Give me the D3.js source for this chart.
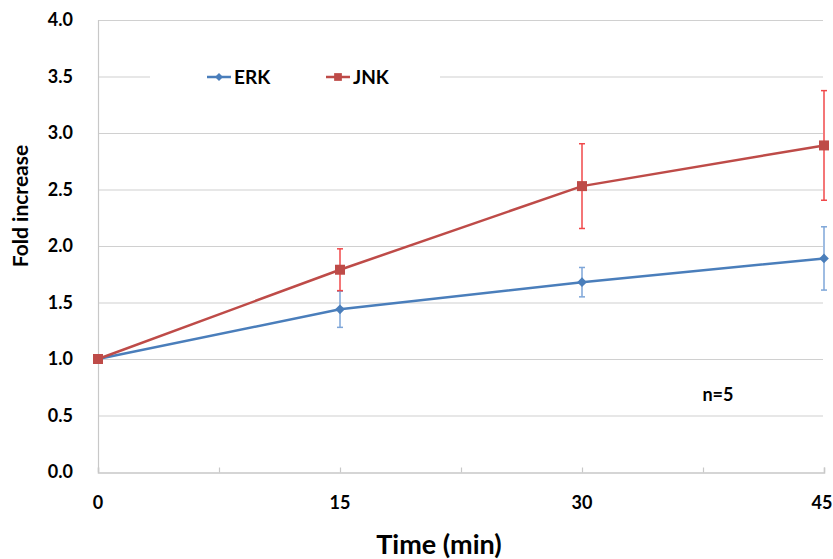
<!DOCTYPE html>
<html>
<head>
<meta charset="utf-8">
<script src="https://cdn.jsdelivr.net/npm/d3@7"></script>
<style>
  body { margin: 0; background: #fff; }
  text { font-family: Lato, "Open Sans", sans-serif; font-weight: bold; fill: #000; }
</style>
</head>
<body>
<div id="chart"></div>
<script>
var times = [0, 15, 30, 45];
var erk = [1.0, 1.44, 1.68, 1.89];
var erkErr = [0, 0.16, 0.13, 0.28];
var jnk = [1.0, 1.79, 2.53, 2.89];
var jnkErr = [0, 0.185, 0.375, 0.485];
var xTickLabels = [0, 15, 30, 45];
var yTicks = [0, 0.5, 1, 1.5, 2, 2.5, 3, 3.5, 4];

var w = 833, h = 559;
var plotLeft = 98, plotRight = 824, plotTop = 20, plotBottom = 472;

var svg = d3.select("#chart").append("svg")
  .attr("width", w)
  .attr("height", h);

var xScale = d3.scaleLinear().domain([0, 45]).range([plotLeft, plotRight]);
var yScale = d3.scaleLinear().domain([0, 4]).range([plotBottom, plotTop]);

// gridlines
svg.append("g").selectAll("line")
  .data(yTicks.filter(function(d) { return d > 0; }))
  .enter().append("line")
  .attr("x1", plotLeft).attr("x2", plotRight - 1)
  .attr("y1", function(d) { return yScale(d) + 0.5; })
  .attr("y2", function(d) { return yScale(d) + 0.5; })
  .attr("stroke", "#d0d0d0")
  .attr("stroke-width", 1.2);

// y axis line + labels
svg.append("line")
  .attr("x1", plotLeft + 0.5).attr("x2", plotLeft + 0.5)
  .attr("y1", plotTop).attr("y2", plotBottom)
  .attr("stroke", "#c8c8c8").attr("stroke-width", 1.2);

svg.append("g").selectAll("text")
  .data(yTicks)
  .enter().append("text")
  .attr("x", 73)
  .attr("y", function(d) { return yScale(d) + 6; })
  .attr("text-anchor", "end")
  .style("font-size", "18px")
  .text(function(d) { return d.toFixed(1); });

// x axis
var xAxis = d3.axisBottom(xScale)
  .tickValues([0, 7.5, 15, 22.5, 30, 37.5, 45])
  .tickSize(-5)
  .tickFormat("");
var gx = svg.append("g")
  .attr("transform", "translate(0," + (plotBottom + 0.5) + ")")
  .call(xAxis);
gx.select(".domain").attr("stroke", "#c8c8c8").attr("stroke-width", 1.5);
gx.selectAll(".tick line").attr("stroke", "#c8c8c8").attr("stroke-width", 1.2);

svg.append("g").selectAll("text")
  .data(xTickLabels)
  .enter().append("text")
  .attr("x", function(d) { return xScale(d) - (d === 45 ? 2 : 0); })
  .attr("y", 509)
  .attr("text-anchor", "middle")
  .style("font-size", "18px")
  .text(function(d) { return d; });

// axis titles
svg.append("text")
  .attr("transform", "translate(28,206) rotate(-90)")
  .attr("text-anchor", "middle")
  .style("font-size", "21px")
  .text("Fold increase");

svg.append("text")
  .attr("x", 439).attr("y", 554)
  .attr("text-anchor", "middle")
  .style("font-size", "27px")
  .text("Time (min)");

svg.append("text")
  .attr("x", 718).attr("y", 401)
  .attr("text-anchor", "middle")
  .style("font-size", "18px")
  .text("n=5");

function drawSeries(vals, errs, lineColor, errColor, marker) {
  var pts = times.map(function(t, i) { return { t: t, v: vals[i], e: errs[i] }; });
  var line = d3.line()
    .x(function(d) { return xScale(d.t); })
    .y(function(d) { return yScale(d.v); });

  var eb = svg.append("g").selectAll("g")
    .data(pts.filter(function(d) { return d.e > 0; }))
    .enter().append("g")
    .attr("stroke", errColor).attr("stroke-width", 1.5);
  eb.append("line")
    .attr("x1", function(d) { return xScale(d.t); })
    .attr("x2", function(d) { return xScale(d.t); })
    .attr("y1", function(d) { return yScale(d.v - d.e); })
    .attr("y2", function(d) { return yScale(d.v + d.e); });
  [-1, 1].forEach(function(s) {
    eb.append("line")
      .attr("x1", function(d) { return xScale(d.t) - 3; })
      .attr("x2", function(d) { return xScale(d.t) + 3; })
      .attr("y1", function(d) { return yScale(d.v + s * d.e); })
      .attr("y2", function(d) { return yScale(d.v + s * d.e); });
  });

  svg.append("path")
    .datum(pts)
    .attr("d", line)
    .attr("fill", "none")
    .attr("stroke", lineColor)
    .attr("stroke-width", 2.5);

  svg.append("g").selectAll("path")
    .data(pts)
    .enter().append("path")
    .attr("d", d3.symbol().type(marker).size(marker === d3.symbolSquare ? 100 : 60))
    .attr("transform", function(d) {
      return "translate(" + xScale(d.t) + "," + yScale(d.v) + ")";
    })
    .attr("fill", lineColor);
}

drawSeries(erk, erkErr, "#4a7ebb", "#7ea6d8", d3.symbolDiamond2);
drawSeries(jnk, jnkErr, "#be4b48", "#f0484a", d3.symbolSquare);

// legend
var legend = svg.append("g");
legend.append("rect")
  .attr("x", 150).attr("y", 64).attr("width", 290).attr("height", 28)
  .attr("fill", "#fff");
var legendItems = [
  { name: "ERK", color: "#4a7ebb", marker: d3.symbolDiamond2, x: 207 },
  { name: "JNK", color: "#be4b48", marker: d3.symbolSquare, x: 326 }
];
var li = legend.selectAll("g.item")
  .data(legendItems)
  .enter().append("g")
  .attr("class", "item");
li.append("line")
  .attr("x1", function(d) { return d.x; })
  .attr("x2", function(d) { return d.x + 24; })
  .attr("y1", 77).attr("y2", 77)
  .attr("stroke", function(d) { return d.color; })
  .attr("stroke-width", 2.5);
li.append("path")
  .attr("d", function(d) { return d3.symbol().type(d.marker).size(d.marker === d3.symbolSquare ? 60 : 40)(); })
  .attr("transform", function(d) { return "translate(" + (d.x + 12) + ",77)"; })
  .attr("fill", function(d) { return d.color; });
li.append("text")
  .attr("x", function(d) { return d.x + 27; })
  .attr("y", 84)
  .style("font-size", "19px")
  .text(function(d) { return d.name; });
</script>
</body>
</html>
